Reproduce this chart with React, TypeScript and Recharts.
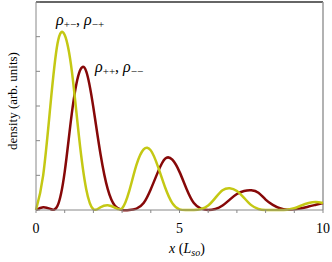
import { LineChart, Line, XAxis, YAxis, ReferenceLine } from "recharts"

const xs = [
  0, 0.25, 0.5, 0.75, 1, 1.25, 1.5, 1.75, 2, 2.25, 2.5, 2.75, 3, 3.25, 3.5, 3.75, 4, 4.25, 4.5, 4.75, 5,
  5.25, 5.5, 5.75, 6, 6.25, 6.5, 6.75, 7, 7.25, 7.5, 7.75, 8, 8.25, 8.5, 8.75, 9, 9.25, 9.5, 9.75, 10,
]
// rho_{+-}, rho_{-+}
const rhoPM = [
  0, 1.0, 3.0, 4.8, 5.05, 4.0, 2.1, 0.6, 0.02, 0.08, 0.14, 0.07, 0.05, 0.55, 1.3, 1.75, 1.72, 1.25, 0.65, 0.2, 0.02,
  0.0, 0.0, 0.03, 0.13, 0.35, 0.57, 0.63, 0.55, 0.35, 0.14, 0.03, 0.0, 0.0, 0.0, 0.01, 0.05, 0.13, 0.2, 0.23, 0.2,
]
// rho_{++}, rho_{--}
const rhoPP = [
  0, 0.08, 0.03, 0.12, 1.1, 2.8, 3.95, 4.0, 2.95, 1.6, 0.6, 0.12, 0.0, 0.0, 0.04, 0.2, 0.6, 1.1, 1.48, 1.45, 1.1,
  0.6, 0.2, 0.04, 0.0, 0.03, 0.13, 0.3, 0.46, 0.55, 0.57, 0.5, 0.3, 0.15, 0.05, 0.01, 0.02, 0.05, 0.1, 0.15, 0.2,
]
const xTicks = [0, 1, 2, 3, 4, 5, 6, 7, 8, 9, 10]
const xLabels = [0, 5, 10]
const yTicks = [0, 1, 2, 3, 4, 5, 6]

const YELLOW = "#c4c814"
const RED = "#860808"
const FONT = "'Liberation Serif', 'DejaVu Serif', serif"

const data = xs.map((x, i) => ({ x, pm: rhoPM[i], pp: rhoPP[i] }))

export default function App() {
  return (
    <div style={{ position: "absolute", left: 0, top: 0, width: 332, height: 262, background: "#fff" }}>
      <LineChart width={332} height={262} data={data} margin={{ top: 2, right: 9, left: 0, bottom: 0 }}>
        <XAxis
          dataKey="x"
          type="number"
          domain={[0, 10]}
          ticks={xTicks}
          interval={0}
          height={52}
          stroke="#888"
          tickSize={3}
          tickMargin={10}
          tick={{ fill: "#000", fontSize: 14, fontFamily: FONT }}
          tickFormatter={(v: number) => (xLabels.includes(v) ? String(v) : "")}
        />
        <YAxis
          type="number"
          domain={[0, 6]}
          ticks={yTicks}
          width={36}
          stroke="#888"
          tickSize={-4}
          tickFormatter={() => ""}
        />
        <ReferenceLine y={6} stroke="#333" strokeWidth={1.5} />
        <ReferenceLine x={10} stroke="#999" strokeWidth={1.5} />
        <Line type="natural" dataKey="pp" stroke={RED} strokeWidth={2.5} dot={false} isAnimationActive={false} />
        <Line type="natural" dataKey="pm" stroke={YELLOW} strokeWidth={2.5} dot={false} isAnimationActive={false} />
      </LineChart>
      <svg width={332} height={262} style={{ position: "absolute", left: 0, top: 0, pointerEvents: "none" }}>
        <text transform="translate(17,101) rotate(-90)" textAnchor="middle" fontFamily={FONT} fontSize={13} fill="#000">
          density (arb. units)
        </text>
        <text x={56} y={25} fontFamily={FONT} fontSize={16} fill="#000">
          <tspan fontStyle="italic">ρ</tspan>
          <tspan fontSize={11} dy={3}>+−</tspan>
          <tspan dy={-3}>, </tspan>
          <tspan fontStyle="italic">ρ</tspan>
          <tspan fontSize={11} dy={3}>−+</tspan>
        </text>
        <text x={95} y={72} fontFamily={FONT} fontSize={16} fill="#000">
          <tspan fontStyle="italic">ρ</tspan>
          <tspan fontSize={11} dy={3}>++</tspan>
          <tspan dy={-3}>, </tspan>
          <tspan fontStyle="italic">ρ</tspan>
          <tspan fontSize={11} dy={3}>−−</tspan>
        </text>
        <text x={187} y={253} textAnchor="middle" fontFamily={FONT} fontSize={14} fill="#000">
          <tspan fontStyle="italic">x</tspan>
          <tspan> (</tspan>
          <tspan fontStyle="italic">L</tspan>
          <tspan fontStyle="italic" fontSize={10} dy={3}>so</tspan>
          <tspan dy={-3}>)</tspan>
        </text>
      </svg>
    </div>
  )
}
